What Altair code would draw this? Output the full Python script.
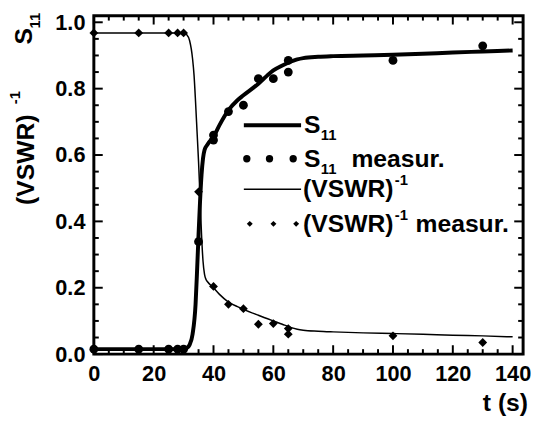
import altair as alt
import pandas as pd

# ---------------- data ----------------
s11_fit_t = [0, 10, 20, 30, 31, 32, 33, 34, 34.5, 35, 35.5, 36, 36.5, 37, 38, 40, 42, 45, 48,
             50, 55, 58, 60, 63, 65, 68, 70, 75, 80, 90, 100, 110, 120, 130, 140]
s11_fit_v = [0.015, 0.015, 0.015, 0.015, 0.018, 0.028, 0.06, 0.15, 0.25, 0.36, 0.46, 0.54,
             0.59, 0.615, 0.632, 0.655, 0.69, 0.735, 0.765, 0.78, 0.815, 0.84, 0.855, 0.87,
             0.878, 0.888, 0.892, 0.896, 0.898, 0.9, 0.902, 0.905, 0.909, 0.912, 0.915]

vswr_fit_t = [0, 10, 20, 30, 31, 32, 33, 33.5, 34, 34.5, 35, 35.5, 36, 36.5, 37, 37.5, 38, 40,
              42, 45, 48, 50, 55, 60, 63, 65, 68, 70, 75, 80, 90, 100, 110, 120, 130, 140]
vswr_fit_v = [0.968, 0.968, 0.968, 0.968, 0.963, 0.945, 0.89, 0.84, 0.76, 0.67, 0.58, 0.47,
              0.36, 0.28, 0.24, 0.225, 0.218, 0.2, 0.18, 0.157, 0.143, 0.135, 0.117, 0.1,
              0.09, 0.083, 0.075, 0.072, 0.069, 0.067, 0.064, 0.062, 0.06, 0.057, 0.055, 0.052]

s11_meas_t = [0, 15, 25, 28, 30, 35, 40, 40, 45, 50, 55, 60, 65, 65, 100, 130]
s11_meas_v = [0.015, 0.015, 0.015, 0.015, 0.015, 0.339, 0.645, 0.66, 0.731, 0.75, 0.83,
              0.83, 0.85, 0.885, 0.885, 0.929]

vswr_meas_t = [0, 15, 25, 28, 30, 35, 40, 45, 50, 55, 60, 65, 65, 100, 130]
vswr_meas_v = [0.968, 0.968, 0.968, 0.968, 0.968, 0.489, 0.204, 0.150, 0.137, 0.090, 0.092,
               0.077, 0.060, 0.055, 0.035]

x_major = [0, 20, 40, 60, 80, 100, 120, 140]
x_minor = [v for v in range(5, 145, 5) if v % 20 != 0]
y_major = [0.0, 0.2, 0.4, 0.6, 0.8, 1.0]
y_minor = [round(0.05 * k, 2) for k in range(1, 21) if k % 4 != 0]

# ---------------- layout / style ----------------
W, H = 435, 343
FONT = "Liberation Sans"
TICKFS = 22
TXTFS = 25
SUBFS = 15

xs = alt.Scale(domain=[0, 143.5], nice=False, zero=False)
ys = alt.Scale(domain=[0, 1.02], nice=False, zero=False)

fit_s11 = pd.DataFrame({"t": s11_fit_t, "v": s11_fit_v})
fit_vswr = pd.DataFrame({"t": vswr_fit_t, "v": vswr_fit_v})
meas_s11 = pd.DataFrame({"t": s11_meas_t, "v": s11_meas_v})
meas_vswr = pd.DataFrame({"t": vswr_meas_t, "v": vswr_meas_v})

xaxis = alt.Axis(values=x_major, labelFontSize=TICKFS, labelFont=FONT, labelFontWeight="bold",
                 labelColor="black", ticks=False, domain=False, grid=False, labelPadding=10,
                 title=None, labelFlush=False)
yaxis = alt.Axis(values=y_major, format=".1f", labelFontSize=TICKFS, labelFont=FONT,
                 labelFontWeight="bold", labelColor="black", ticks=False, domain=False,
                 grid=False, labelPadding=9, title=None)

X = lambda: alt.X("t:Q", scale=xs, axis=xaxis)
Y = lambda: alt.Y("v:Q", scale=ys, axis=yaxis)

s11_line = alt.Chart(fit_s11).mark_line(color="black", strokeWidth=4, interpolate="monotone").encode(
    x=X(), y=Y())
vswr_line = alt.Chart(fit_vswr).mark_line(color="black", strokeWidth=1.5, interpolate="monotone").encode(
    x=X(), y=Y())
s11_pts = alt.Chart(meas_s11).mark_point(filled=True, shape="circle", size=80, color="black", opacity=1).encode(
    x=X(), y=Y())
vswr_pts = alt.Chart(meas_vswr).mark_point(filled=True, shape="diamond", size=80, color="black", opacity=1).encode(
    x=X(), y=Y())

# inward ticks on all four sides (tick marks placed by the scales)
xt_major = pd.DataFrame({"t": x_major})
xt_minor = pd.DataFrame({"t": x_minor})
yt_major = pd.DataFrame({"v": y_major})
yt_minor = pd.DataFrame({"v": y_minor})

def xticks(df, length):
    b = alt.Chart(df).mark_tick(color="black", thickness=2, size=length, opacity=1).encode(
        x=X(), y=alt.value(H - length / 2))
    t = alt.Chart(df).mark_tick(color="black", thickness=2, size=length, opacity=1).encode(
        x=X(), y=alt.value(length / 2))
    return [b, t]

def yticks(df, length):
    l = alt.Chart(df).mark_tick(color="black", thickness=2, size=length, opacity=1).encode(
        y=Y(), x=alt.value(length / 2))
    r = alt.Chart(df).mark_tick(color="black", thickness=2, size=length, opacity=1).encode(
        y=Y(), x=alt.value(W - length / 2))
    return [l, r]

ticks = xticks(xt_major, 9) + xticks(xt_minor, 5) + yticks(yt_major, 9) + yticks(yt_minor, 5)

one = pd.DataFrame({"a": [0]})

def hrule(x1, x2, y, w):
    return alt.Chart(one).mark_rule(color="black", strokeWidth=w).encode(
        x=alt.value(x1), x2=alt.value(x2), y=alt.value(y))

def txt(s, x, y, size=TXTFS, angle=0, align="left", baseline="middle"):
    return alt.Chart(one).mark_text(text=s, font=FONT, fontWeight="bold", fontSize=size,
                                    color="black", angle=angle, align=align,
                                    baseline=baseline).encode(x=alt.value(x), y=alt.value(y))

# legend (manual, to allow sub/superscripts)
LX = 213
r1, r2, r3, r4 = 111, 145, 176, 211
legend = [
    hrule(152, 210, r1, 4),
    txt("S", LX, r1),
    txt("11", LX + 17, r1 + 10, SUBFS),
    txt("S", LX, r2),
    txt("11", LX + 17, r2 + 10, SUBFS),
    txt("measur.", LX + 48, r2),
    hrule(152, 210, r3, 1.5),
    txt("(VSWR)", LX - 1, r3),
    txt("-1", LX + 92, r3 - 9, SUBFS),
    txt("(VSWR)", LX - 1, r4),
    txt("-1", LX + 92, r4 - 9, SUBFS),
    txt("measur.", LX + 113, r4),
]
for px in (155, 178, 202):
    legend.append(alt.Chart(one).mark_point(filled=True, shape="circle", size=55, color="black",
                                            opacity=1).encode(x=alt.value(px), y=alt.value(r2)))
for px in (158, 182, 205):
    legend.append(alt.Chart(one).mark_point(filled=True, shape="diamond", size=36, color="black",
                                            opacity=1).encode(x=alt.value(px), y=alt.value(r4)))

# axis titles (rotated)
titles = [
    txt("S", -71, 21, TXTFS, angle=270, align="center"),
    txt("11", -60, 5, SUBFS, angle=270, align="center"),
    txt("(VSWR)", -69, 146, TXTFS, angle=270, align="center"),
    txt("-1", -80, 83, SUBFS, angle=270, align="center"),
    txt("t (s)", 440, 393, TXTFS, align="right"),
]

chart = alt.layer(s11_line, vswr_line, s11_pts, vswr_pts, *ticks, *legend, *titles).properties(
    width=W, height=H,
    padding=0,
    background="white",
).configure_view(stroke="black", strokeWidth=3)

chart.save("out.html", embed_options={"renderer": "svg", "actions": False})
